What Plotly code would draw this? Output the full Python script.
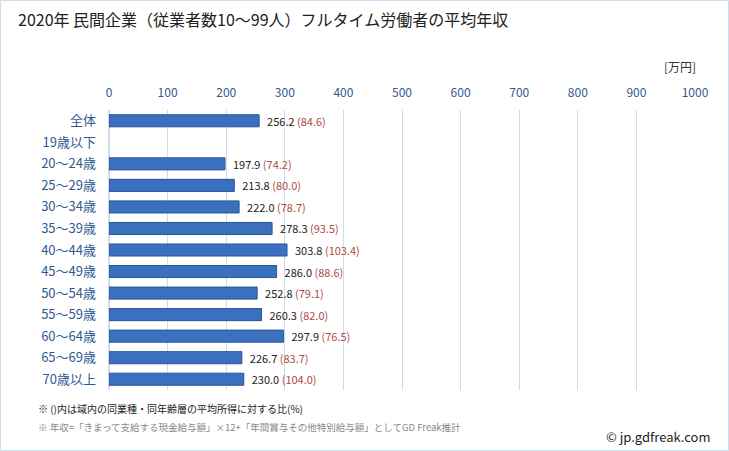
import plotly.graph_objects as go

categories = ["全体", "19歳以下", "20～24歳", "25～29歳", "30～34歳", "35～39歳", "40～44歳",
              "45～49歳", "50～54歳", "55～59歳", "60～64歳", "65～69歳", "70歳以上"]
values = [256.2, None, 197.9, 213.8, 222.0, 278.3, 303.8, 286.0, 252.8, 260.3, 297.9, 226.7, 230.0]
ratios = [84.6, None, 74.2, 80.0, 78.7, 93.5, 103.4, 88.6, 79.1, 82.0, 76.5, 83.7, 104.0]
tick_vals = [0, 100, 200, 300, 400, 500, 600, 700, 800, 900, 1000]

W, H = 729, 451
ml, mr, mt, mb = 109, 34, 110, 61

texts = []
for v, r in zip(values, ratios):
    if v is None:
        texts.append("")
    else:
        texts.append(f"  <span style='color:#222222'>{v:.1f}</span> <span style='color:#b04a45'>({r:.1f})</span>")

fig = go.Figure()
fig.add_trace(go.Bar(
    x=values,
    y=categories,
    orientation="h",
    width=0.56,
    marker=dict(color="#3b70bf", line=dict(color="#2a5597", width=1)),
    text=texts,
    textposition="outside",
    constraintext="none",
    textfont=dict(family="Noto Sans CJK JP", size=11),
    cliponaxis=False,
    hoverinfo="skip",
))

fig.update_layout(
    width=W, height=H,
    margin=dict(l=ml, r=mr, t=mt, b=mb),
    paper_bgcolor="white", plot_bgcolor="white",
    showlegend=False,
    font=dict(family="Noto Sans CJK JP"),
    xaxis=dict(
        range=[0, 1000], side="top", tickvals=tick_vals,
        tickfont=dict(size=12, color="#2f5a8f"),
        showgrid=True, gridcolor="#cfdcec", gridwidth=1,
        zeroline=True, zerolinecolor="#cfdcec", showline=False, ticks="",
        ticklabelstandoff=10,
        fixedrange=True,
    ),
    yaxis=dict(
        categoryorder="array", categoryarray=categories, autorange="reversed",
        tickfont=dict(size=13, color="#2f5a8f"), ticks="",
        ticklabelstandoff=12,
        showgrid=False, showline=False,
        fixedrange=True,
    ),
    bargap=0.44,
)

pw = W - ml - mr
ph = H - mt - mb
def px(x):
    return (x - ml) / pw
def py(y):
    return 1 - (y - mt) / ph

fig.add_annotation(text="2020年 民間企業（従業者数10～99人）フルタイム労働者の平均年収",
                   xref="paper", yref="paper", x=px(16), y=py(19), xanchor="left", yanchor="middle",
                   showarrow=False, font=dict(size=16, color="#222222"))
fig.add_annotation(text="[万円]", xref="paper", yref="paper", x=px(698), y=py(66),
                   xanchor="right", yanchor="middle", showarrow=False,
                   font=dict(size=12, color="#333333"))
fig.add_annotation(text="※ ()内は域内の同業種・同年齢層の平均所得に対する比(%)", xref="paper", yref="paper",
                   x=px(36), y=py(408), xanchor="left", yanchor="middle", showarrow=False,
                   font=dict(size=10, color="#222222"))
fig.add_annotation(text="※ 年収=「きまって支給する現金給与額」×12+「年間賞与その他特別給与額」としてGD Freak推計",
                   xref="paper", yref="paper", x=px(36), y=py(427), xanchor="left", yanchor="middle",
                   showarrow=False, font=dict(size=9.5, color="#888888"))
fig.add_annotation(text="© jp.gdfreak.com", xref="paper", yref="paper", x=px(713), y=py(436),
                   xanchor="right", yanchor="middle", showarrow=False,
                   font=dict(size=13, color="#222222"))
fig.add_shape(type="rect", xref="paper", yref="paper",
              x0=px(0.5), x1=px(W - 0.5), y0=py(H - 0.5), y1=py(0.5),
              line=dict(color="#cfdcec", width=1), fillcolor="rgba(0,0,0,0)", layer="below")

fig.write_html("out.html", config={"displayModeBar": False},
               post_script="document.body.style.margin='0';document.body.style.overflow='hidden';")
